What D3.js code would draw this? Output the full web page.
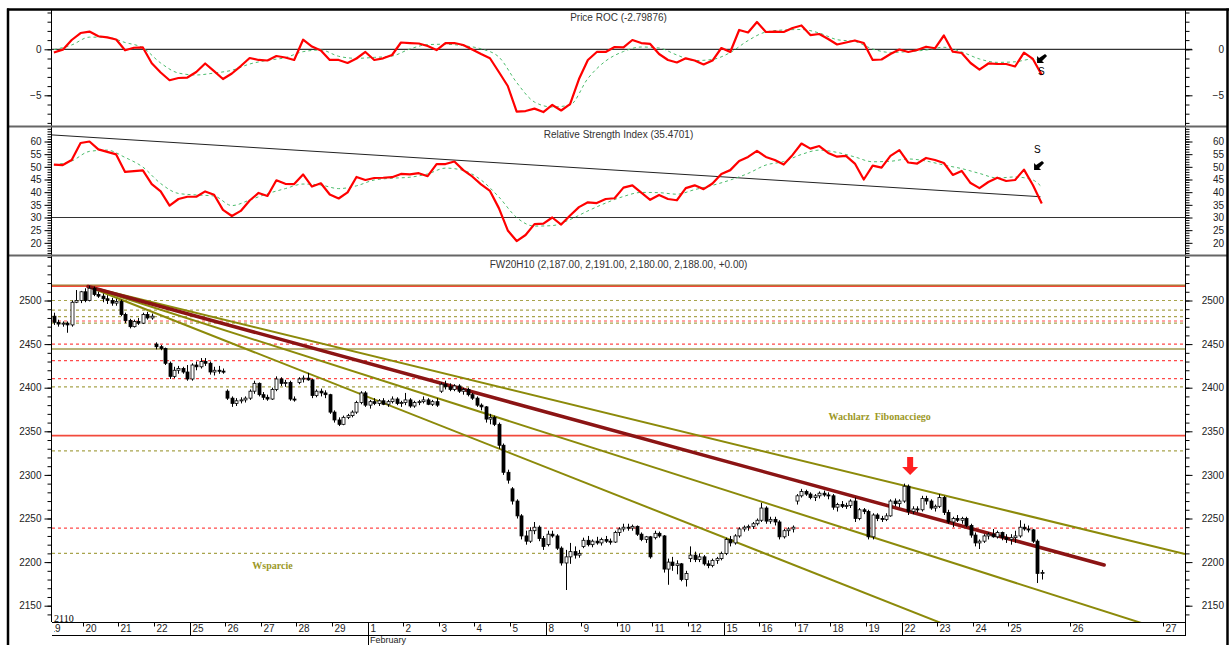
<!DOCTYPE html>
<html>
<head>
<meta charset="utf-8">
<script src="https://cdn.jsdelivr.net/npm/d3@7"></script>
<style>
  body { margin: 0; background: #fff; }
  svg { font-family: Arial, "Liberation Sans", sans-serif; }
</style>
</head>
<body>
<div id="container"></div>
<script>
// x axis: trading days (index), labels
const dayLabels = ['19','20','21','22','25','26','27','28','29','1','2','3','4','5','8','9','10','11','12','15','16','17','18','19','22','23','24','25','26','27']
const dayPos = [0,1,2,3,4,5,6,7,8,9,10,11,12,13,14,15,16,17,18,19,20,21,22,23,24,25,26,27,28.72,31.35]
const weekStarts = [4, 14, 19, 24]
const monthStarts = [9]
const monthLabels = ['February']

// hourly candles, 8 per day  [open, high, low, close]
const candles = [
  // 19
  [2484,2488,2478,2482],[2482,2486,2472,2475],[2475,2478,2470,2473],[2473,2476,2470,2474],[2474,2476,2463,2472],[2472,2500,2470,2498],[2498,2512,2497,2500],[2500,2511,2497,2510],
  // 20
  [2510,2514,2498,2500],[2500,2517,2499,2514],[2514,2516,2505,2507],[2507,2510,2503,2505],[2505,2508,2498,2502],[2502,2506,2496,2500],[2500,2503,2494,2497],[2497,2502,2494,2499],
  // 21
  [2499,2501,2482,2484],[2484,2486,2474,2477],[2477,2479,2468,2470],[2470,2478,2469,2476],[2476,2480,2472,2474],[2474,2486,2473,2484],[2484,2487,2478,2480],[2480,2485,2478,2482],
  // 22
  [2450,2452,2444,2447],[2447,2449,2443,2445],[2445,2446,2426,2428],[2428,2430,2410,2413],[2413,2424,2411,2420],[2420,2425,2416,2422],[2422,2424,2416,2418],[2418,2426,2408,2410],
  // 25
  [2410,2428,2408,2426],[2426,2430,2420,2424],[2424,2434,2422,2430],[2430,2434,2425,2428],[2428,2430,2415,2418],[2418,2424,2414,2420],[2420,2425,2416,2419],[2419,2422,2416,2418],
  // 26
  [2396,2398,2386,2388],[2388,2390,2378,2382],[2382,2388,2379,2385],[2385,2389,2382,2386],[2386,2390,2383,2388],[2388,2398,2386,2396],[2396,2408,2393,2405],[2405,2406,2390,2392],
  // 27
  [2392,2395,2386,2389],[2389,2392,2385,2387],[2387,2400,2386,2398],[2398,2413,2396,2410],[2410,2412,2402,2405],[2405,2409,2401,2406],[2406,2408,2385,2387],[2387,2390,2384,2386],
  // 28
  [2406,2412,2404,2410],[2410,2414,2406,2411],[2411,2417,2408,2409],[2409,2410,2388,2391],[2391,2398,2389,2396],[2396,2399,2390,2394],[2394,2397,2388,2392],[2392,2393,2370,2372],
  // 29
  [2372,2374,2360,2363],[2363,2366,2356,2358],[2358,2368,2357,2366],[2366,2370,2364,2368],[2368,2374,2366,2372],[2372,2385,2370,2383],[2383,2396,2381,2394],[2394,2396,2378,2380],
  // 1 Feb
  [2380,2386,2376,2384],[2384,2388,2380,2382],[2382,2387,2379,2385],[2385,2388,2380,2381],[2381,2386,2378,2384],[2384,2390,2382,2387],[2387,2389,2380,2382],[2382,2385,2378,2383],
  // 2
  [2383,2394,2380,2386],[2386,2388,2377,2379],[2379,2385,2377,2383],[2383,2386,2380,2384],[2384,2390,2382,2386],[2386,2388,2380,2381],[2381,2386,2379,2384],[2384,2388,2378,2380],
  // 3
  [2396,2406,2394,2404],[2404,2408,2398,2401],[2401,2405,2396,2398],[2398,2404,2396,2402],[2402,2404,2394,2396],[2396,2400,2392,2398],[2398,2400,2390,2392],[2392,2394,2386,2388],
  // 4
  [2388,2390,2378,2380],[2380,2382,2374,2378],[2378,2379,2360,2364],[2364,2370,2358,2366],[2366,2368,2356,2358],[2358,2360,2330,2334],[2334,2336,2300,2303],[2303,2306,2290,2294],
  // 5
  [2284,2286,2266,2270],[2270,2272,2250,2253],[2253,2255,2226,2230],[2230,2236,2220,2224],[2224,2240,2222,2236],[2236,2246,2232,2240],[2240,2242,2224,2227],[2227,2230,2214,2218],
  // 8
  [2220,2236,2218,2232],[2232,2236,2228,2230],[2230,2232,2214,2216],[2216,2218,2196,2199],[2199,2214,2168,2206],[2206,2222,2198,2212],[2212,2218,2204,2208],[2208,2214,2205,2210],
  // 9
  [2218,2228,2216,2225],[2225,2230,2218,2220],[2220,2226,2217,2224],[2224,2229,2220,2222],[2222,2228,2219,2226],[2226,2230,2222,2224],[2224,2227,2220,2223],[2223,2236,2222,2234],
  // 10
  [2234,2240,2230,2238],[2238,2244,2235,2240],[2240,2244,2236,2239],[2239,2243,2236,2241],[2241,2242,2230,2232],[2232,2234,2224,2226],[2226,2230,2222,2229],[2229,2230,2204,2206],
  // 11
  [2228,2236,2226,2233],[2233,2235,2228,2230],[2230,2231,2188,2192],[2192,2204,2174,2200],[2200,2206,2190,2196],[2196,2202,2186,2198],[2198,2199,2178,2180],[2180,2190,2172,2187],
  // 12
  [2204,2218,2200,2208],[2208,2212,2200,2203],[2203,2210,2200,2206],[2206,2208,2196,2198],[2198,2202,2193,2196],[2196,2204,2194,2202],[2202,2206,2198,2204],[2204,2212,2202,2210],
  // 15
  [2210,2228,2208,2226],[2226,2230,2218,2222],[2222,2232,2220,2230],[2230,2240,2228,2238],[2238,2242,2235,2240],[2240,2243,2236,2241],[2241,2246,2238,2244],[2244,2250,2242,2248],
  // 16
  [2248,2268,2246,2262],[2262,2264,2244,2247],[2247,2252,2244,2249],[2249,2252,2242,2246],[2246,2248,2226,2229],[2229,2238,2227,2236],[2236,2240,2230,2238],[2238,2242,2234,2240],
  // 17
  [2270,2278,2266,2276],[2276,2284,2274,2281],[2281,2283,2276,2278],[2278,2280,2272,2274],[2274,2278,2270,2276],[2276,2281,2273,2279],[2279,2282,2275,2277],[2277,2280,2272,2276],
  // 18
  [2276,2278,2260,2263],[2263,2268,2258,2266],[2266,2270,2262,2264],[2264,2268,2261,2265],[2265,2272,2262,2270],[2270,2274,2246,2250],[2250,2262,2248,2260],[2260,2262,2255,2258],
  // 19
  [2258,2260,2226,2229],[2229,2256,2226,2254],[2254,2256,2247,2250],[2250,2253,2246,2249],[2249,2256,2247,2253],[2253,2272,2252,2270],[2270,2273,2264,2267],[2267,2272,2263,2270],
  // 22
  [2270,2290,2268,2287],[2287,2289,2254,2258],[2258,2264,2255,2261],[2261,2264,2257,2260],[2260,2276,2258,2273],[2273,2276,2266,2270],[2270,2272,2260,2262],[2262,2266,2258,2264],
  // 23
  [2264,2278,2262,2274],[2274,2276,2254,2257],[2257,2260,2244,2246],[2246,2252,2240,2250],[2250,2254,2246,2248],[2248,2252,2244,2250],[2250,2252,2240,2242],[2242,2244,2228,2231],
  // 24
  [2231,2234,2218,2222],[2222,2226,2215,2224],[2224,2232,2222,2230],[2230,2234,2226,2232],[2232,2238,2228,2229],[2229,2236,2227,2234],[2234,2235,2225,2228],[2228,2232,2222,2226],
  // 25
  [2226,2232,2220,2228],[2228,2236,2222,2230],[2230,2248,2228,2240],[2240,2244,2236,2238],[2238,2242,2234,2237],[2237,2238,2222,2224],[2224,2226,2176,2187],[2187,2191,2180,2188]
]

// Price ROC, one value every 2 bars
const rocValues = [
  -0.35,-0.04,1.01,1.77,1.93,1.42,1.29,1.07,-0.11,0.17,0.2,-1.52,-2.52,-3.36,-3.12,-3.07,
  -2.47,-1.54,-2.38,-3.23,-2.63,-1.82,-0.95,-1.16,-1.22,-0.73,-0.89,-1.16,1.04,0.3,-0.13,-1.16,
  -1.16,-1.49,-1.0,-0.29,-1.16,-0.98,-0.62,0.74,0.68,0.63,0.36,-0.08,0.68,0.68,0.47,-0.02,
  -0.51,-0.97,-2.47,-3.99,-6.78,-6.71,-6.45,-6.82,-6.05,-6.65,-5.97,-3.23,-1.16,-0.29,-0.29,0.25,
  0.2,1.01,0.68,0.58,-0.51,-1.16,-1.43,-0.98,-1.22,-1.65,-1.22,0.14,-0.29,2.1,1.83,2.97,
  1.88,1.93,1.88,2.32,2.59,1.55,1.66,1.12,0.52,0.74,0.96,0.68,-1.16,-1.11,-0.51,-0.02,
  -0.29,-0.08,0.28,0.11,1.5,-0.26,-0.4,-1.49,-2.2,-1.54,-1.6,-1.6,-1.87,-0.37,-1.05,-2.8
]
// ROC moving average, one value every 4 bars
const rocAvg = [
  -0.04,0.47,1.32,1.3,0.74,0.16,-1.49,-2.58,-2.79,-2.58,-2.28,-1.6,-1.2,-0.91,-0.26,-0.08,
  -0.76,-0.98,-0.88,-0.73,0.03,0.51,0.55,0.39,0.05,-0.84,-3.61,-5.73,-6.27,-6.05,-3.17,-1.27,
  -0.24,0.25,0.14,-0.62,-1.23,-1.1,-0.35,0.95,1.88,2.1,2.15,1.77,1.05,0.85,0.03,-0.34,
  -0.25,-0.08,0.22,-0.29,-1.05,-1.42,-1.36,-1.05,-1.38
]

// RSI, one value every 2 bars
const rsiValues = [
  50.9,50.7,52.7,59.4,60.0,56.9,55.9,54.9,48.0,48.3,48.6,43.2,40.3,34.7,37.3,38.2,
  38.2,40.3,39.0,33.0,30.6,32.6,36.7,39.7,38.5,44.7,43.3,43.2,47.0,42.2,43.5,39.1,
  37.5,39.9,46.0,44.8,45.6,45.7,45.9,47.2,47.0,47.5,46.3,51.1,51.1,52.1,48.7,46.2,
  43.1,40.5,33.7,24.9,20.7,23.1,27.4,27.6,30.0,27.2,30.8,34.1,36.0,35.7,37.3,37.6,
  41.8,42.7,39.8,37.0,38.9,37.3,36.8,41.6,42.7,41.2,43.4,47.2,48.7,52.3,53.9,56.3,
  53.9,52.7,50.9,54.7,59.2,57.2,58.2,55.5,54.0,54.3,51.3,45.0,50.5,49.7,54.3,56.6,
  51.7,51.3,53.5,52.7,51.5,46.8,48.4,43.6,41.6,44.0,45.7,44.4,44.8,48.9,42.8,35.5
]
// RSI moving average, one value every 4 bars
const rsiAvg = [
  50.8,52.3,56.1,56.6,53.7,49.9,43.4,39.5,38.9,38.5,34.7,36.9,39.4,41.4,43.2,42.8,
  41.4,42.5,44.8,45.5,45.9,47.2,49.5,48.6,44.8,38.1,30.0,26.6,26.8,29.2,32.6,35.7,
  38.3,39.9,39.8,39.2,41.0,42.7,44.8,47.4,50.7,52.1,54.9,56.6,55.7,53.9,52.0,52.2,
  53.1,52.3,50.7,49.3,47.4,45.6,46.0,44.8,42.0
]
const rsiTrend = [[0.13, 62.6], [27.9, 38.2]]
const rsiLevel = 30

// support / resistance levels on the price panel
const redSolidLevels = [2516.5, 2345]
const oliveSolidLevels = [2444.5]
const redDashLevels = [2476.5, 2450, 2431, 2410.5, 2239]
const oliveDashLevels = [2500, 2489, 2481.5, 2474, 2401, 2327.5, 2210]

// Fibonacci fan from the top (day, price)
const fanOrigin = [1.146, 2516]
const fanEnds = [[31.96, 2209.2], [31.96, 2114.2], [31.96, 2019.8]]
const fanMain = [29.69, 2196.7]

const priceTicks = [2150, 2200, 2250, 2300, 2350, 2400, 2450, 2500]
const rocTicks = [0, -5]
const rsiTicks = [20, 25, 30, 35, 40, 45, 50, 55, 60]

const rocTitle = 'Price ROC (-2.79876)'
const rsiTitle = 'Relative Strength Index (35.4701)'
const priceTitle = 'FW20H10 (2,187.00, 2,191.00, 2,180.00, 2,188.00, +0.00)'

const W = 1230, H = 645
const left = 52, right = 1185
const svg = d3.select('#container').append('svg').attr('width', W).attr('height', H)

const x = d3.scaleLinear().domain([0, 32]).range([47.2, 47.2 + 35.6 * 32])
const barX = i => x((i + 0.5) / 8)
const yRoc = d3.scaleLinear().domain([0, -5]).range([49.3, 95.3])
const yRsi = d3.scaleLinear().domain([60, 30]).range([141.5, 217.5])
const yPx = d3.scaleLinear().domain([2500, 2150]).range([300.5, 605.7])

const panels = [
  { id: 'roc', top: 11, bottom: 125.5, y: yRoc, ticks: rocTicks, minor: d3.range(-8, 5, 1) },
  { id: 'rsi', top: 127.5, bottom: 254.5, y: yRsi, ticks: rsiTicks, minor: d3.range(15, 66, 1) },
  { id: 'px', top: 256.5, bottom: 622, y: yPx, ticks: priceTicks, minor: d3.range(2140, 2551, 10) }
]

const defs = svg.append('defs')
panels.forEach(p => {
  defs.append('clipPath').attr('id', 'clip-' + p.id)
    .append('rect').attr('x', left).attr('y', p.top).attr('width', right - left).attr('height', p.bottom - p.top)
})
defs.append('clipPath').attr('id', 'clip-xlab')
  .append('rect').attr('x', 54).attr('y', 622).attr('width', right - 54).attr('height', 30)

// axes on both sides
const fmt = d3.format('d')
panels.forEach(p => {
  const inRange = v => p.y(v) > p.top && p.y(v) < p.bottom
  const minors = p.minor.filter(inRange)
  const gl = svg.append('g').attr('transform', `translate(${left - 0.5},0)`)
  gl.call(d3.axisLeft(p.y).tickValues(minors).tickSize(4).tickFormat(''))
  gl.select('.domain').remove()
  const gl2 = svg.append('g').attr('transform', `translate(${left - 0.5},0)`)
  gl2.call(d3.axisLeft(p.y).tickValues(p.ticks).tickSize(7).tickPadding(3).tickFormat(fmt))
  gl2.select('.domain').remove()

  const gr = svg.append('g').attr('transform', `translate(${right + 0.5},0)`)
  gr.call(d3.axisRight(p.y).tickValues(minors).tickSize(4).tickFormat(''))
  gr.select('.domain').remove()
  const gr2 = svg.append('g').attr('transform', `translate(${right + 0.5},0)`)
  gr2.call(d3.axisRight(p.y).tickValues(p.ticks).tickSize(7).tickFormat(fmt))
  gr2.select('.domain').remove()
  gr2.selectAll('text').attr('x', 38.5).attr('text-anchor', 'end')
})
svg.selectAll('.tick line').attr('stroke', '#000')
svg.selectAll('.tick text').attr('font-size', 10).attr('fill', '#222').attr('font-family', 'Arial, "Liberation Sans", sans-serif')

// vertical axis lines
svg.append('line').attr('x1', left - 0.5).attr('x2', left - 0.5).attr('y1', 9).attr('y2', 622).attr('stroke', '#000')
svg.append('line').attr('x1', right + 0.5).attr('x2', right + 0.5).attr('y1', 9).attr('y2', 636).attr('stroke', '#000')

// panel separators and frame
;[126.5, 255.5].forEach(yy => {
  svg.append('line').attr('x1', 8).attr('x2', 1227).attr('y1', yy).attr('y2', yy).attr('stroke', '#666').attr('stroke-width', 2)
})
svg.append('line').attr('x1', 8).attr('x2', 8).attr('y1', 8.5).attr('y2', H).attr('stroke', '#000').attr('stroke-width', 2.5)
svg.append('line').attr('x1', 1227.5).attr('x2', 1227.5).attr('y1', 8.5).attr('y2', H).attr('stroke', '#000').attr('stroke-width', 2.5)
svg.append('line').attr('x1', 7).attr('x2', 1229).attr('y1', 9.5).attr('y2', 9.5).attr('stroke', '#000').attr('stroke-width', 2.5)

// titles
const titleY = [21, 138, 268]
;[rocTitle, rsiTitle, priceTitle].forEach((t, i) => {
  svg.append('text').attr('x', 618.5).attr('y', titleY[i]).attr('text-anchor', 'middle')
    .attr('font-size', 10).attr('fill', '#333').text(t)
})

// ---- ROC panel
const gRoc = svg.append('g').attr('clip-path', 'url(#clip-roc)')
gRoc.append('line').attr('x1', left).attr('x2', right).attr('y1', yRoc(0)).attr('y2', yRoc(0)).attr('stroke', '#000')
svg.append('line').attr('x1', right).attr('x2', right + 7).attr('y1', yRoc(0)).attr('y2', yRoc(0)).attr('stroke', '#000')
gRoc.append('path').datum(rocAvg)
  .attr('d', d3.line().x((d, k) => barX(Math.min(4 * k + 1, candles.length - 1))).y(d => yRoc(d)).curve(d3.curveMonotoneX))
  .attr('fill', 'none').attr('stroke', '#4cbb6c').attr('stroke-dasharray', '3,3')
gRoc.append('path').datum(rocValues)
  .attr('d', d3.line().x((d, j) => barX(2 * j + 1)).y(d => yRoc(d)))
  .attr('fill', 'none').attr('stroke', '#ff0000').attr('stroke-width', 2.2).attr('stroke-linejoin', 'round')

// ---- RSI panel
const gRsi = svg.append('g').attr('clip-path', 'url(#clip-rsi)')
gRsi.append('line').attr('x1', left).attr('x2', right).attr('y1', yRsi(rsiLevel)).attr('y2', yRsi(rsiLevel)).attr('stroke', '#333')
gRsi.append('line')
  .attr('x1', x(rsiTrend[0][0])).attr('y1', yRsi(rsiTrend[0][1]))
  .attr('x2', x(rsiTrend[1][0])).attr('y2', yRsi(rsiTrend[1][1]))
  .attr('stroke', '#222')
gRsi.append('path').datum(rsiAvg)
  .attr('d', d3.line().x((d, k) => barX(Math.min(4 * k + 1, candles.length - 1))).y(d => yRsi(d)).curve(d3.curveMonotoneX))
  .attr('fill', 'none').attr('stroke', '#4cbb6c').attr('stroke-dasharray', '3,3')
gRsi.append('path').datum(rsiValues)
  .attr('d', d3.line().x((d, j) => barX(2 * j + 1)).y(d => yRsi(d)))
  .attr('fill', 'none').attr('stroke', '#ff0000').attr('stroke-width', 2.2).attr('stroke-linejoin', 'round')

// sell signals
const lastDay = (candles.length - 0.5) / 8 - 0.02
const arrowPath = 'M4,-5 L6,-3 L1,2 L3,4 L-4,4 L-4,-3 L-2,-1 Z'
svg.append('path').attr('d', arrowPath).attr('fill', '#000')
  .attr('transform', `translate(${x(lastDay)},${yRoc(-1.05)})`)
svg.append('text').attr('x', x(lastDay) - 3).attr('y', yRoc(-2.8)).attr('font-size', 10).attr('fill', '#000').text('S')
svg.append('path').attr('d', arrowPath).attr('fill', '#000')
  .attr('transform', `translate(${x(lastDay) - 3},${yRsi(50.3)})`)
svg.append('text').attr('x', x(lastDay) - 7).attr('y', yRsi(55.5)).attr('font-size', 10).attr('fill', '#000').text('S')

// ---- price panel
const gPx = svg.append('g').attr('clip-path', 'url(#clip-px)')
const hLine = (v, color, width, dash) => {
  const l = gPx.append('line').attr('x1', left).attr('x2', right).attr('y1', yPx(v)).attr('y2', yPx(v))
    .attr('stroke', color).attr('stroke-width', width)
  if (dash) l.attr('stroke-dasharray', dash)
}
oliveDashLevels.forEach(v => hLine(v, '#a8a44c', 1.2, '3,3'))
redDashLevels.forEach(v => hLine(v, '#ff4a4a', 1.2, '3,3'))
oliveSolidLevels.forEach(v => hLine(v, '#b8b47a', 2))
redSolidLevels.forEach(v => hLine(v, '#f24a3c', 1.6))
hLine(redSolidLevels[0] + 1.2, '#8a6a10', 1)

// fan
fanEnds.forEach(e => {
  gPx.append('line')
    .attr('x1', x(fanOrigin[0])).attr('y1', yPx(fanOrigin[1]))
    .attr('x2', x(e[0])).attr('y2', yPx(e[1]))
    .attr('stroke', '#8c8a0a').attr('stroke-width', 2)
})
gPx.append('line')
  .attr('x1', x(fanOrigin[0])).attr('y1', yPx(fanOrigin[1]))
  .attr('x2', x(fanMain[0])).attr('y2', yPx(fanMain[1]))
  .attr('stroke', '#8b1414').attr('stroke-width', 3.5).attr('stroke-linecap', 'round')

// candles
const bodyW = 3
const cg = gPx.append('g')
cg.selectAll('line.wick').data(candles).enter().append('line')
  .attr('class', 'wick')
  .attr('x1', (d, i) => Math.round(barX(i)) + 0.5).attr('x2', (d, i) => Math.round(barX(i)) + 0.5)
  .attr('y1', d => yPx(d[1])).attr('y2', d => yPx(d[2]))
  .attr('stroke', '#000')
cg.selectAll('rect.body').data(candles).enter().append('rect')
  .attr('class', 'body')
  .attr('x', (d, i) => Math.round(barX(i)) - 1)
  .attr('y', d => yPx(Math.max(d[0], d[3])))
  .attr('width', bodyW)
  .attr('height', d => Math.max(1, Math.abs(yPx(d[0]) - yPx(d[3]))))
  .attr('fill', d => d[3] >= d[0] ? '#fff' : '#000')
  .attr('stroke', '#000').attr('stroke-width', 0.8)

// labels on the price panel
const serif = '"Liberation Serif", "DejaVu Serif", serif'
gPx.append('text').attr('x', x(21.95)).attr('y', yPx(2363)).style('font-family', serif)
  .attr('font-weight', 'bold').attr('font-size', 10).attr('fill', '#9c9826').style('white-space', 'pre').text('Wachlarz  Fibonacciego')
gPx.append('text').attr('x', x(5.76)).attr('y', yPx(2192)).style('font-family', serif)
  .attr('font-weight', 'bold').attr('font-size', 10).attr('fill', '#9c9826').text('Wsparcie')
svg.append('text').attr('x', 54).attr('y', 622).style('font-family', serif)
  .attr('font-size', 10).attr('fill', '#000').text('2110')

// red arrow at the false breakout
svg.append('path').attr('d', 'M-3,0 L3,0 L3,10 L8,10 L0,18 L-8,10 L-3,10 Z').attr('fill', '#ff2020')
  .attr('transform', `translate(${x(24.24)},${yPx(2320.5)})`)

// ---- x axis
svg.append('line').attr('x1', left).attr('x2', right).attr('y1', 622.5).attr('y2', 622.5).attr('stroke', '#000')
svg.append('line').attr('x1', left).attr('x2', right).attr('y1', 635.5).attr('y2', 635.5).attr('stroke', '#000')
const gx = svg.append('g').attr('clip-path', 'url(#clip-xlab)')
dayLabels.forEach((lab, i) => {
  const xx = Math.round(x(dayPos[i])) + 0.5
  const isMonth = monthStarts.includes(dayPos[i])
  const isWeek = weekStarts.includes(dayPos[i])
  if (xx > left) {
    svg.append('line').attr('x1', xx).attr('x2', xx).attr('y1', 622.5)
      .attr('y2', isMonth ? H : isWeek ? 635.5 : 626.5).attr('stroke', '#000')
  }
  gx.append('text').attr('x', xx + 2).attr('y', 632).attr('font-size', 10).attr('fill', '#222').text(lab)
})
monthStarts.forEach((m, i) => {
  svg.append('text').attr('x', x(m) + 2.5).attr('y', 643).attr('font-size', 9).attr('fill', '#222').text(monthLabels[i])
})
</script>
</body>
</html>
